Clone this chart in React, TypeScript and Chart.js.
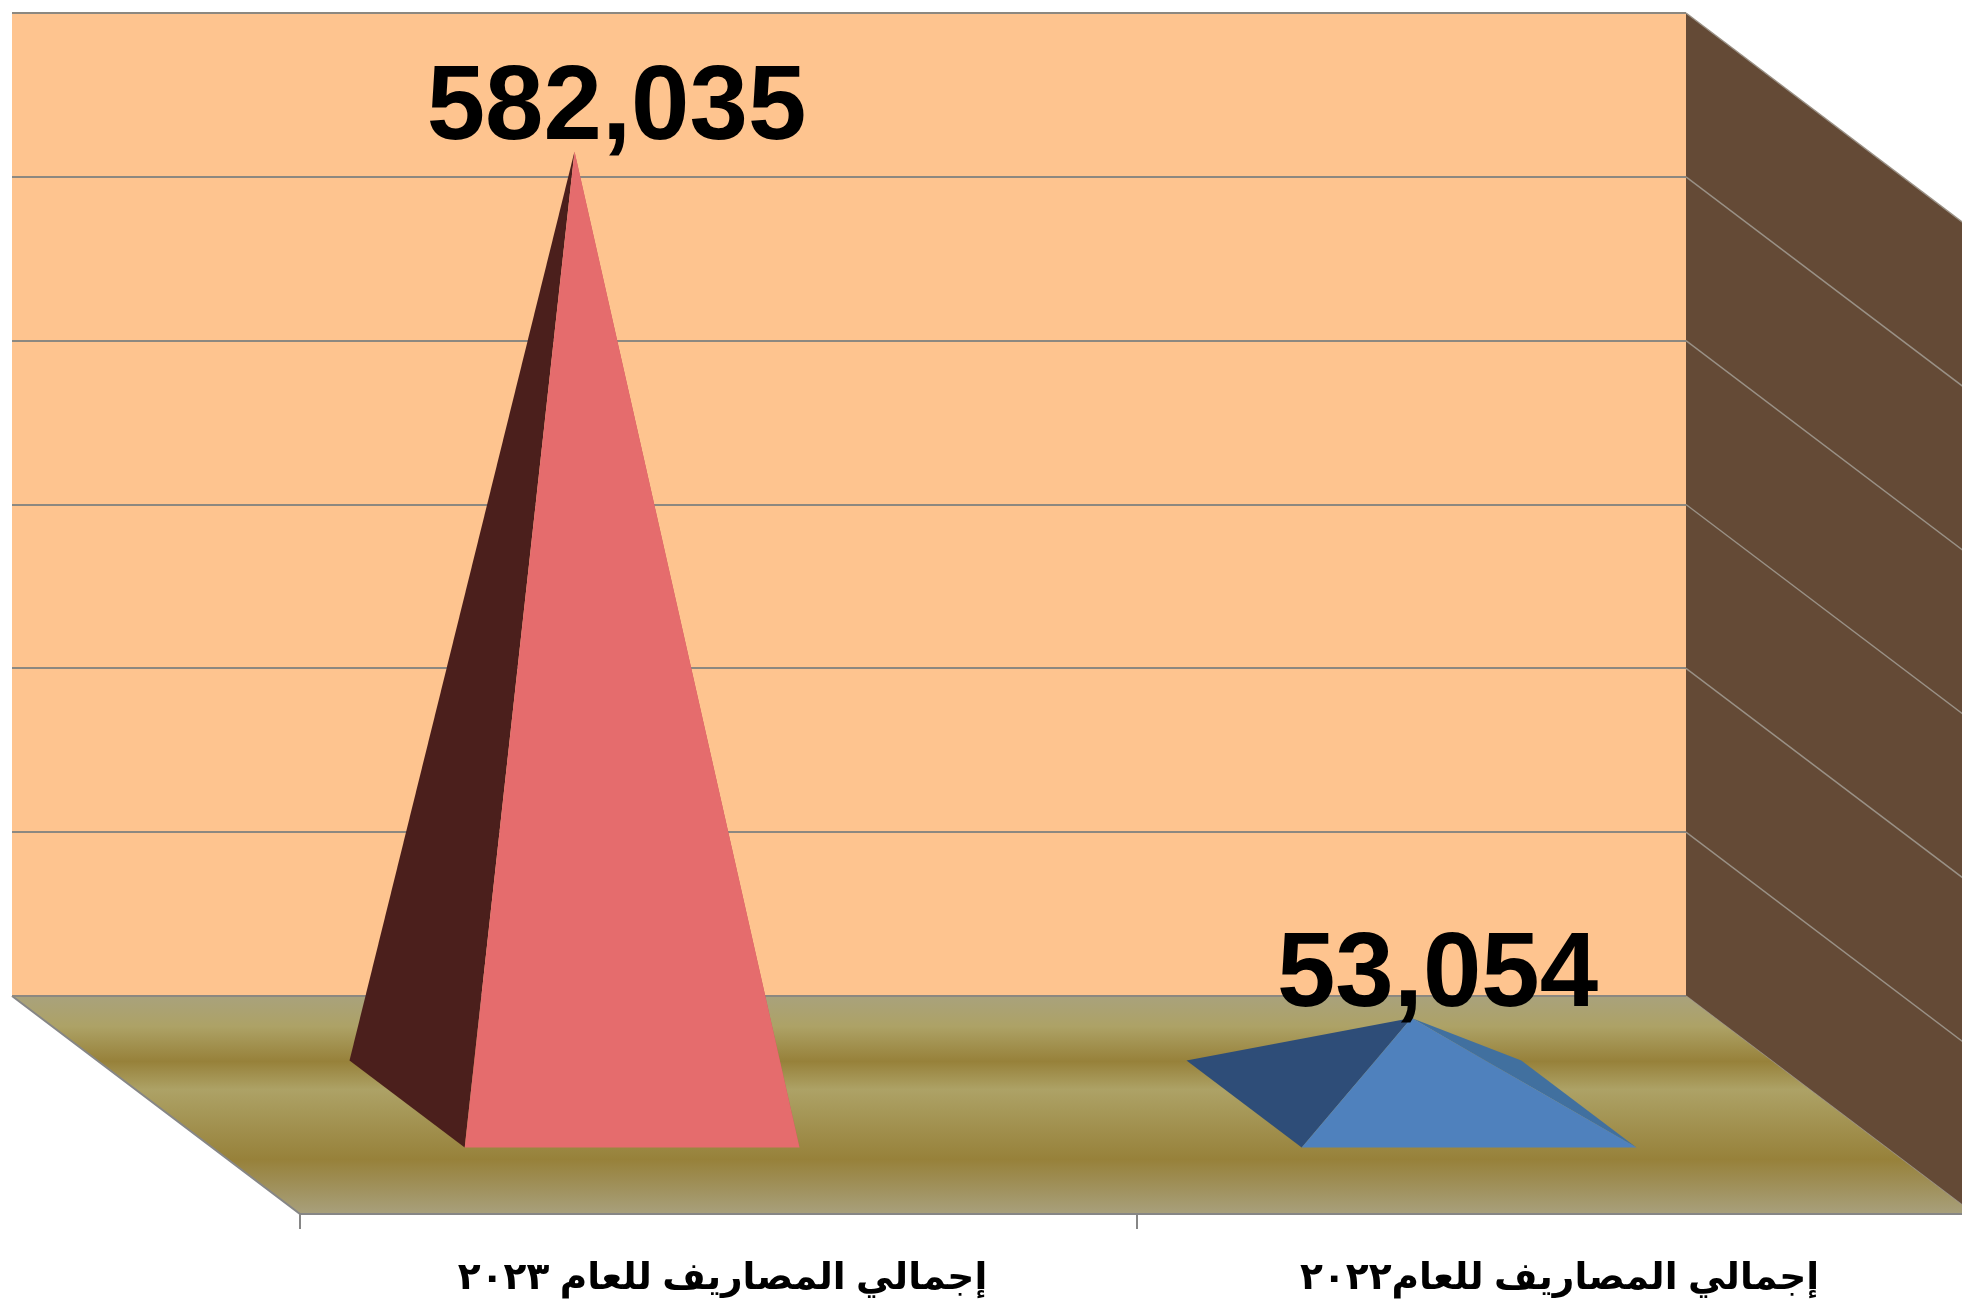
import React, { useEffect, useRef } from "react";
import { Chart, BarController, registerables } from "chart.js";

const categories = ["إجمالي المصاريف للعام ٢٠٢٣", "إجمالي المصاريف للعام٢٠٢٢"];
const values = [582035, 53054];
const frontColors = ["#e56c6d", "#4f81bd"];
const sideColors = ["#4b1f1c", "#2e4d78"];
const backColors = ["#c85a5c", "#41709f"];

const WIDTH = 1962;
const HEIGHT = 1306;
const DEPTH_X = 288;
const DEPTH_Y = 218;
const LABEL_SHIFT = [42, 26];
const NUMBER_FONT = "bold 105px 'Liberation Sans', Arial, sans-serif";

const poly = (ctx: CanvasRenderingContext2D, pts: number[][], fill: any) => {
  ctx.beginPath();
  pts.forEach((p, i) => (i ? ctx.lineTo(p[0], p[1]) : ctx.moveTo(p[0], p[1])));
  ctx.closePath();
  ctx.fillStyle = fill;
  ctx.fill();
};

class PyramidController extends BarController {
  static id = "pyramid";
  draw() {
    const ctx = this.chart.ctx;
    const meta = this.getMeta();
    const xScale: any = this.chart.scales.x;
    const catWidth = xScale.width / xScale.getLabels().length;
    meta.data.forEach((el: any, i: number) => {
      const half = el.width / 2;
      const frac = el.width / catWidth / 2; // pyramid depth follows its width
      const cx = el.x + DEPTH_X / 2;
      const cy = el.base + DEPTH_Y / 2;
      const apex = [cx, el.y + DEPTH_Y / 2];
      const fl = [cx + DEPTH_X * frac - half, cy + DEPTH_Y * frac];
      const fr = [cx + DEPTH_X * frac + half, cy + DEPTH_Y * frac];
      const bl = [cx - DEPTH_X * frac - half, cy - DEPTH_Y * frac];
      const br = [cx - DEPTH_X * frac + half, cy - DEPTH_Y * frac];
      ctx.save();
      poly(ctx, [br, apex, fr], backColors[i]);
      poly(ctx, [bl, apex, fl], sideColors[i]);
      poly(ctx, [fl, apex, fr], frontColors[i]);
      ctx.restore();
    });
  }
}

Chart.register(...registerables, PyramidController);

const scene3d = {
  id: "scene3d",
  beforeDraw(chart: any) {
    const { ctx, chartArea: a, scales } = chart;
    ctx.save();
    // back wall
    ctx.fillStyle = "#fec48f";
    ctx.fillRect(a.left, a.top, a.right - a.left, a.bottom - a.top);
    // side wall
    poly(
      ctx,
      [
        [a.right, a.top],
        [a.right + DEPTH_X, a.top + DEPTH_Y],
        [a.right + DEPTH_X, a.bottom + DEPTH_Y],
        [a.right, a.bottom],
      ],
      "#644a36"
    );
    // side wall grid lines
    ctx.lineWidth = 1.4;
    ctx.strokeStyle = "#9a9186";
    scales.y.ticks.forEach((_: any, i: number) => {
      const y = scales.y.getPixelForTick(i);
      ctx.beginPath();
      ctx.moveTo(a.right, y);
      ctx.lineTo(a.right + DEPTH_X, y + DEPTH_Y);
      ctx.stroke();
    });
    // floor
    const g = ctx.createLinearGradient(0, a.bottom, 0, a.bottom + DEPTH_Y);
    g.addColorStop(0, "#a9a27c");
    g.addColorStop(0.14, "#ada266");
    g.addColorStop(0.3, "#97813a");
    g.addColorStop(0.43, "#ada266");
    g.addColorStop(0.75, "#97813a");
    g.addColorStop(1, "#a8a07c");
    poly(
      ctx,
      [
        [a.left, a.bottom],
        [a.right, a.bottom],
        [a.right + DEPTH_X, a.bottom + DEPTH_Y],
        [a.left + DEPTH_X, a.bottom + DEPTH_Y],
      ],
      g
    );
    // floor edges and category ticks
    ctx.strokeStyle = "#868686";
    ctx.lineWidth = 2;
    ctx.beginPath();
    ctx.moveTo(a.left, a.bottom);
    ctx.lineTo(a.left + DEPTH_X, a.bottom + DEPTH_Y);
    ctx.lineTo(a.right + DEPTH_X, a.bottom + DEPTH_Y);
    const n = categories.length;
    for (let i = 0; i <= n; i++) {
      const x = a.left + DEPTH_X + ((a.right - a.left) * i) / n;
      ctx.moveTo(x, a.bottom + DEPTH_Y);
      ctx.lineTo(x, a.bottom + DEPTH_Y + 15);
    }
    ctx.stroke();
    ctx.restore();
  },
  afterDatasetsDraw(chart: any) {
    const { ctx } = chart;
    const meta = chart.getDatasetMeta(0);
    ctx.save();
    ctx.font = NUMBER_FONT;
    ctx.fillStyle = "#000";
    ctx.textAlign = "center";
    ctx.textBaseline = "alphabetic";
    meta.data.forEach((el: any, i: number) => {
      const text = values[i].toLocaleString("en-US");
      ctx.fillText(text, el.x + DEPTH_X / 2 + LABEL_SHIFT[i], el.y + DEPTH_Y / 2 - 12);
    });
    ctx.restore();
  },
};

export default function App() {
  const ref = useRef<HTMLCanvasElement>(null);
  useEffect(() => {
    const chart = new Chart(ref.current!, {
      type: "pyramid" as any,
      data: {
        labels: categories,
        datasets: [
          {
            data: values,
            backgroundColor: frontColors,
            barPercentage: 0.4,
            categoryPercentage: 1,
            clip: false,
          },
        ],
      },
      options: {
        animation: false,
        responsive: false,
        devicePixelRatio: 1,
        layout: { padding: { left: 12, top: 13, right: 276, bottom: 0 } },
        plugins: { legend: { display: false }, tooltip: { enabled: false } },
        scales: {
          x: {
            type: "category",
            offset: true,
            grid: { display: false },
            border: { display: false },
            afterFit: (s: any) => {
              s.paddingLeft = 0;
              s.paddingRight = 0;
              s.height = HEIGHT - 996;
            },
            ticks: {
              autoSkip: false,
              maxRotation: 0,
              labelOffset: DEPTH_X + 4,
              padding: 252,
              color: "#000",
              font: { family: "'Liberation Sans', Arial, 'DejaVu Sans', sans-serif", size: 37.5, weight: "bold" },
            },
          },
          y: {
            type: "linear",
            min: 0,
            max: 600000,
            ticks: { stepSize: 100000, display: false },
            grid: { color: "#8c8880", lineWidth: 2, drawTicks: false },
            border: { display: false },
          },
        },
      } as any,
      plugins: [scene3d as any],
    });
    return () => chart.destroy();
  }, []);
  return (
    <div style={{ position: "fixed", left: 0, top: 0, width: WIDTH, height: HEIGHT, overflow: "hidden", background: "#fff" }}>
      <canvas ref={ref} width={WIDTH} height={HEIGHT} style={{ display: "block" }} />
    </div>
  );
}
